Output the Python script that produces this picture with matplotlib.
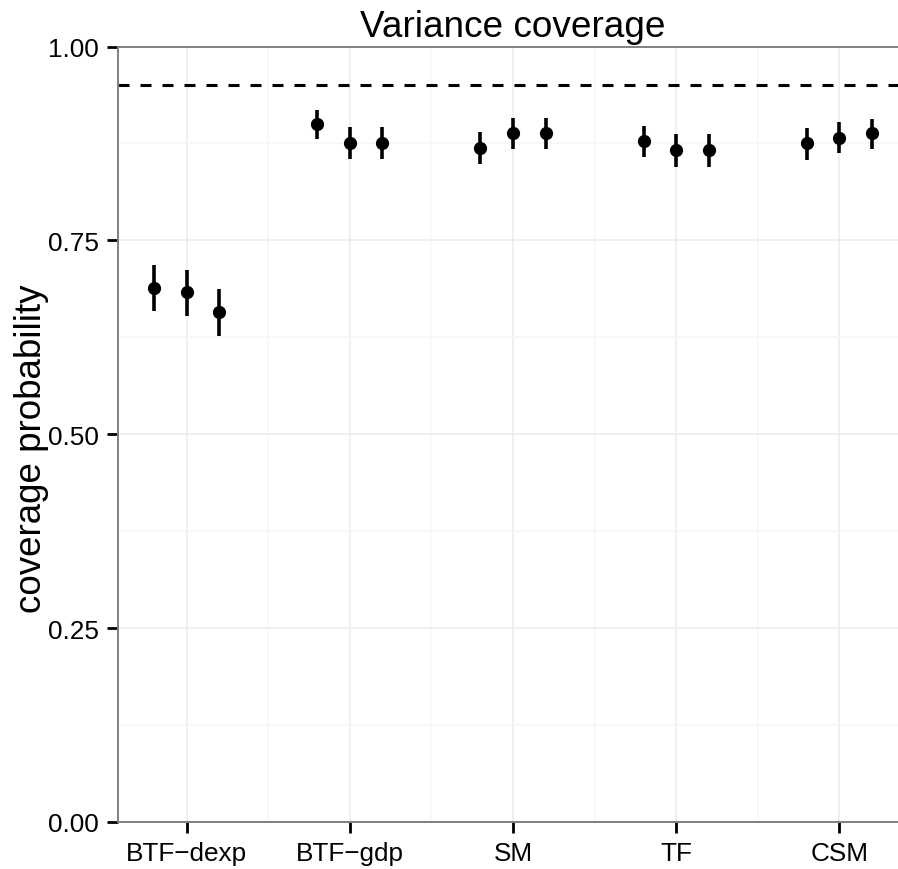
import matplotlib
matplotlib.use('Agg')
import matplotlib.pyplot as plt
import numpy as np

# Data
methods = ['BTF\u2212dexp', 'BTF\u2212gdp', 'SM', 'TF', 'CSM']
coverage = [
    [0.688, 0.683, 0.658],
    [0.900, 0.876, 0.876],
    [0.869, 0.889, 0.889],
    [0.878, 0.866, 0.866],
    [0.875, 0.882, 0.888],
]
lower = [
    [0.659, 0.653, 0.627],
    [0.881, 0.855, 0.855],
    [0.848, 0.868, 0.868],
    [0.857, 0.844, 0.844],
    [0.854, 0.863, 0.868],
]
upper = [
    [0.718, 0.712, 0.687],
    [0.918, 0.896, 0.896],
    [0.890, 0.908, 0.908],
    [0.898, 0.887, 0.887],
    [0.895, 0.903, 0.907],
]
nominal = 0.95
yticks = [0.0, 0.25, 0.50, 0.75, 1.00]
yticklabels = ['0.00', '0.25', '0.50', '0.75', '1.00']

plt.rcParams['font.family'] = ['Liberation Sans', 'DejaVu Sans']

fig = plt.figure(figsize=(8.98, 8.70), dpi=100)
ax = fig.add_axes([118 / 898, 47 / 870, 790 / 898, 775.5 / 870])

x = np.arange(1, len(methods) + 1)
offsets = [-0.2, 0.0, 0.2]

# grid
ax.set_xticks(x)
ax.set_xticks(x[:-1] + 0.5, minor=True)
ax.set_yticks(yticks)
ax.set_yticks(np.arange(0.125, 1.0, 0.25), minor=True)
ax.grid(which='major', color='#ebebeb', linewidth=1.1)
ax.grid(which='minor', color='#f6f6f6', linewidth=1.1)
ax.set_axisbelow(True)

ax.axhline(nominal, color='black', linewidth=2.2, dashes=(3.6, 3.6), zorder=2)

cov = np.array(coverage)
lo = np.array(lower)
hi = np.array(upper)
for j, off in enumerate(offsets):
    xs = x + off
    ax.vlines(xs, lo[:, j], hi[:, j], color='black', linewidth=2.6, zorder=3)
    ax.plot(xs, cov[:, j], 'o', color='black', markersize=8.5, zorder=4)

ax.set_xlim(0.58, 5.42)
ax.set_ylim(0, 1)
ax.set_xticklabels(methods, fontsize=18.8)
ax.set_yticklabels(yticklabels, fontsize=18.8)
ax.tick_params(which='major', direction='out', length=8, width=2, color='black', pad=6)
ax.tick_params(which='minor', length=0)

for s in ['left', 'bottom', 'top']:
    ax.spines[s].set_color('#808080')
    ax.spines[s].set_linewidth(1.4)
ax.spines['right'].set_visible(False)

ax.set_ylabel('coverage probability', fontsize=26.5)
ax.yaxis.set_label_coords(-0.109, 0.482)
ax.yaxis.label.set_verticalalignment('center')
ax.set_title('Variance coverage', fontsize=26.6, pad=7.5)

fig.savefig('out.png', dpi=100)
